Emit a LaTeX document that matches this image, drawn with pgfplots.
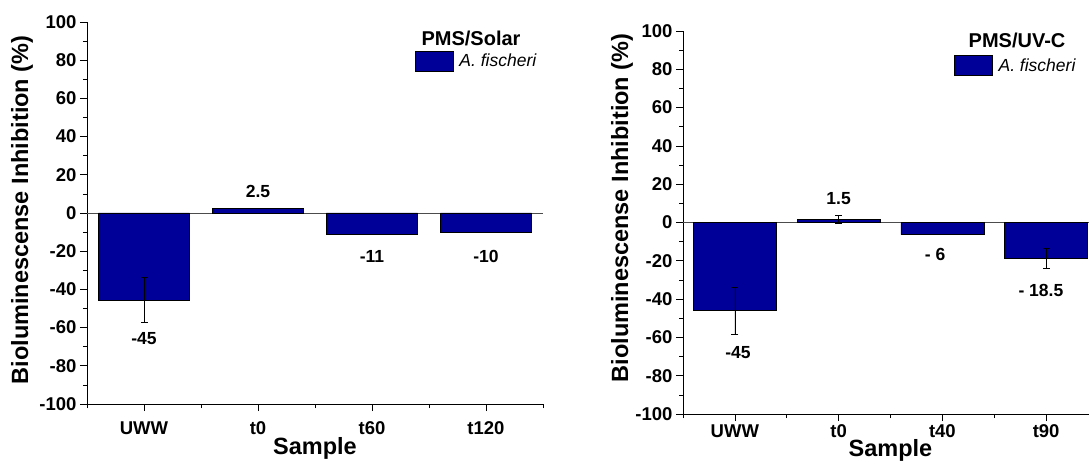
\documentclass[border=0pt]{standalone}
\usepackage{fontspec}
\setmainfont{Liberation Sans}
\usepackage{pgfplots}
\pgfplotsset{compat=1.18}
\definecolor{barblue}{RGB}{0,0,153}
\tikzset{vlab/.style={font=\fontsize{17.5}{18}\selectfont\bfseries}}
\pgfplotsset{
 mybar/.style={
  scale only axis,
  anchor=south west,
  axis x line=bottom, axis y line=left,
  axis line style={-, black, line width=0.8pt},
  ymin=-100, ymax=100, ytick={-100,-80,...,100},
  minor y tick num=1,
  xmin=-0.5, xmax=3.5,
  xtick={0,1,2,3},
  minor xtick={-0.5,0.5,1.5,2.5,3.5},
  tick align=outside,
  major tick length=7pt, minor tick length=4pt,
  every tick/.style={black, line width=0.7pt},
  /pgf/number format/assume math mode=true,
  ticklabel style={font=\fontsize{18.5}{20}\selectfont\bfseries},
  label style={font=\fontsize{23.5}{25}\selectfont\bfseries},
  xlabel={Sample},
  ylabel={Bioluminescense Inhibition (\%)},
  legend style={anchor=north west, draw=none, fill=none, inner sep=0pt, outer sep=0pt,
    font=\fontsize{17.5}{18}\selectfont\itshape, legend cell align=left,
    nodes={inner sep=2pt},
    /tikz/every odd column/.append style={column sep=4pt}},
  legend image code/.code={\draw[#1, draw=black, fill=barblue, line width=0.6pt] (0pt,-10pt) rectangle (38pt,10pt);},
 },
 bars/.style={ybar, bar width=0.8, fill=barblue, draw=black, line width=0.6pt,
   error bars/.cd, y dir=both, y explicit,
   error bar style={black, line width=0.7pt},
   error mark options={rotate=90, mark size=3.5pt, black, line width=0.7pt}},
}
\begin{document}
\begin{tikzpicture}
\useasboundingbox (0,0) rectangle (1089pt,463pt);
% Left panel
\begin{axis}[mybar, at={(87pt,59pt)}, width=456pt, height=382pt,
  xticklabels={UWW,t0,t60,t120},
  xticklabel style={yshift=-7pt},
  xlabel style={at={(axis description cs:0.5,-0.115)}, anchor=center},
  ylabel style={at={(axis description cs:-0.1425,0.508)}, anchor=center},
  legend style={at={(0.719,0.924)}},
]
\draw[gray!60!black, line width=0.8pt] (axis cs:-0.5,0) -- (axis cs:3.5,0);
\addplot[bars] coordinates {(0,-45.7) +- (0,11.8) (1,2.3) +- (0,0) (2,-11.4) +- (0,0) (3,-10.3) +- (0,0)};
\addlegendentry{A. fischeri}
\node[vlab] at (axis cs:0,-66) {-45};
\node[vlab] at (axis cs:1,11.5) {2.5};
\node[vlab] at (axis cs:2,-23) {-11};
\node[vlab] at (axis cs:3,-23) {-10};
\end{axis}
\node[font=\fontsize{20}{22}\selectfont\bfseries] at (471pt,425pt) {PMS/Solar};
% Right panel
\begin{axis}[mybar, at={(683pt,49pt)}, width=415pt, height=383pt,
  xticklabels={UWW,t0,t40,t90},
  xlabel style={at={(axis description cs:0.5,-0.094)}, anchor=center},
  ylabel style={at={(axis description cs:-0.147,0.538)}, anchor=center},
  legend style={at={(0.653,0.937)}},
]
\draw[gray!60!black, line width=0.8pt] (axis cs:-0.5,0) -- (axis cs:3.5,0);
\addplot[bars] coordinates {(0,-46.0) +- (0,12.3) (1,1.5) +- (0,2) (2,-6.3) +- (0,0) (3,-18.8) +- (0,5.2)};
\addlegendentry{A. fischeri}
\node[vlab] at (axis cs:0.03,-68) {-45};
\node[vlab] at (axis cs:1,12.5) {1.5};
\node[vlab] at (axis cs:1.93,-16.7) {- 6};
\node[vlab] at (axis cs:2.95,-35.5) {- 18.5};
\end{axis}
\node[font=\fontsize{20}{22}\selectfont\bfseries] at (1017pt,423pt) {PMS/UV-C};
\end{tikzpicture}
\end{document}
